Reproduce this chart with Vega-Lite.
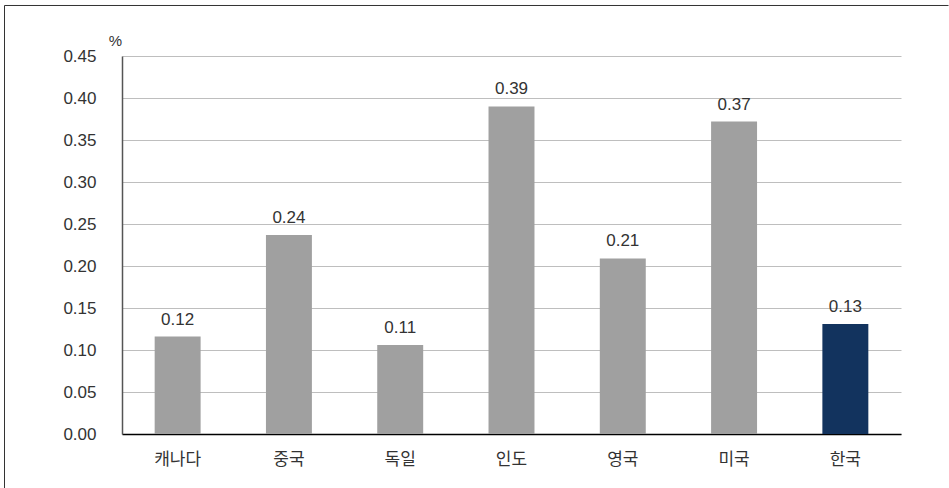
{
  "$schema": "https://vega.github.io/schema/vega-lite/v6.json",
  "width": 779,
  "height": 378,
  "padding": {"left": 4, "top": 4, "right": 0, "bottom": 0},
  "background": "white",
  "config": {"view": {"stroke": null}},
  "datasets": {
    "bars": [
      {"country": "캐나다", "value": 0.116},
      {"country": "중국", "value": 0.237},
      {"country": "독일", "value": 0.106},
      {"country": "인도", "value": 0.39},
      {"country": "영국", "value": 0.209},
      {"country": "미국", "value": 0.372},
      {"country": "한국", "value": 0.131}
    ],
    "frame": [
      {"edge": "left", "x1": -0.15083, "x2": -0.15083, "y1": -0.1442, "y2": 1.1336},
      {"edge": "top", "x1": -0.15083, "x2": 1.0610, "y1": 1.1336, "y2": 1.1336}
    ]
  },
  "layer": [
    {
      "data": {"name": "bars"},
      "encoding": {
        "x": {
          "field": "country", "type": "nominal", "sort": null,
          "scale": {"paddingInner": 0.587, "paddingOuter": 0.2935},
          "axis": {
            "title": null, "ticks": false, "labelAngle": 0, "labelPadding": 17,
            "labelFont": "Noto Sans CJK KR", "labelFontSize": 17, "labelColor": "#333333",
            "domainColor": "#000000", "domainWidth": 1.5
          }
        },
        "y": {
          "field": "value", "type": "quantitative",
          "scale": {"domain": [0, 0.45], "nice": false},
          "axis": {
            "values": [0, 0.05, 0.1, 0.15, 0.2, 0.25, 0.3, 0.35, 0.4, 0.45],
            "format": ".2f", "ticks": false, "labelPadding": 26,
            "labelFont": "Liberation Sans", "labelFontSize": 17, "labelColor": "#333333",
            "domainColor": "#555555", "domainWidth": 1.5,
            "grid": true, "gridColor": "#BEBEBE", "gridWidth": 1,
            "title": "%", "titleAngle": 0, "titleX": -7, "titleY": -11,
            "titleAlign": "center", "titleBaseline": "alphabetic",
            "titleFont": "Liberation Sans", "titleFontSize": 15, "titleFontWeight": "normal", "titleColor": "#333333"
          }
        }
      },
      "layer": [
        {
          "mark": {"type": "bar"},
          "encoding": {
            "color": {
              "condition": {"test": "datum.country === '한국'", "value": "#12335E"},
              "value": "#A0A0A0"
            }
          }
        },
        {
          "mark": {"type": "text", "baseline": "alphabetic", "dy": -12, "font": "Liberation Sans", "fontSize": 17, "color": "#333333"},
          "encoding": {
            "text": {"field": "value", "type": "quantitative", "format": ".2f"}
          }
        }
      ]
    },
    {
      "data": {"name": "frame"},
      "mark": {"type": "rule", "color": "#333333", "strokeWidth": 1},
      "encoding": {
        "x": {"field": "x1", "type": "quantitative", "scale": {"domain": [0, 1], "nice": false, "zero": false}, "axis": null},
        "x2": {"field": "x2"},
        "y": {"field": "y1", "type": "quantitative", "scale": {"domain": [0, 1], "nice": false, "zero": false}, "axis": null},
        "y2": {"field": "y2"}
      }
    }
  ],
  "resolve": {"scale": {"x": "independent", "y": "independent"}, "axis": {"x": "independent", "y": "independent"}}
}
